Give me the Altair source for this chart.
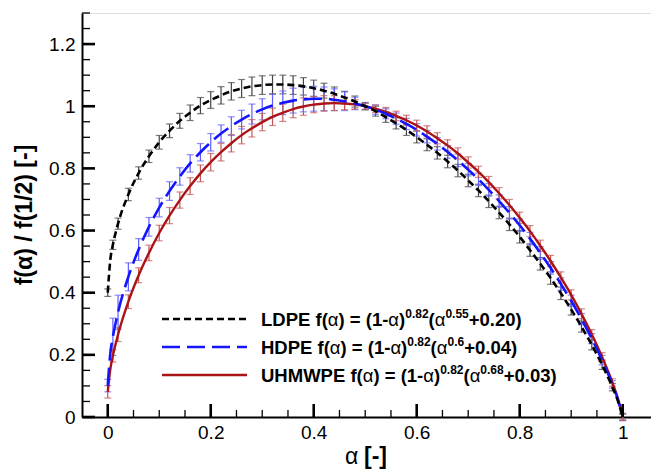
import altair as alt
import pandas as pd

# ---------------- data ----------------
alpha = [0, 0.005, 0.01, 0.02, 0.04, 0.06, 0.08, 0.10, 0.12, 0.14, 0.16, 0.18, 0.20,
         0.22, 0.24, 0.26, 0.28, 0.30, 0.32, 0.34, 0.36, 0.38, 0.40, 0.42, 0.44, 0.46,
         0.48, 0.50, 0.52, 0.54, 0.56, 0.58, 0.60, 0.62, 0.64, 0.66, 0.68, 0.70, 0.72,
         0.74, 0.76, 0.78, 0.80, 0.82, 0.84, 0.86, 0.88, 0.90, 0.92, 0.94, 0.96, 0.98,
         0.99, 1.0]

ldpe = [0.400, 0.506, 0.554, 0.622, 0.716, 0.785, 0.839, 0.884, 0.921, 0.953, 0.979,
        1.002, 1.020, 1.035, 1.048, 1.057, 1.064, 1.068, 1.070, 1.070, 1.068, 1.064,
        1.058, 1.050, 1.040, 1.028, 1.015, 1.000, 0.984, 0.965, 0.945, 0.924, 0.901,
        0.876, 0.850, 0.822, 0.793, 0.761, 0.729, 0.694, 0.658, 0.620, 0.580, 0.537,
        0.493, 0.447, 0.398, 0.346, 0.291, 0.232, 0.168, 0.096, 0.055, 0.0]

hdpe = [0.101, 0.205, 0.258, 0.337, 0.451, 0.539, 0.612, 0.674, 0.727, 0.774, 0.816,
        0.852, 0.884, 0.912, 0.936, 0.957, 0.975, 0.990, 1.002, 1.011, 1.018, 1.022,
        1.024, 1.024, 1.021, 1.016, 1.009, 1.000, 0.989, 0.976, 0.960, 0.943, 0.924,
        0.902, 0.879, 0.853, 0.826, 0.796, 0.765, 0.731, 0.695, 0.657, 0.617, 0.574,
        0.528, 0.480, 0.428, 0.374, 0.315, 0.252, 0.183, 0.105, 0.060, 0.0]

uhmwpe = [0.081, 0.154, 0.197, 0.265, 0.371, 0.456, 0.528, 0.592, 0.648, 0.698, 0.743,
          0.784, 0.820, 0.852, 0.881, 0.907, 0.929, 0.949, 0.966, 0.979, 0.991, 0.999,
          1.005, 1.009, 1.010, 1.009, 1.006, 1.000, 0.992, 0.982, 0.969, 0.955, 0.938,
          0.919, 0.897, 0.874, 0.848, 0.819, 0.789, 0.756, 0.720, 0.682, 0.641, 0.598,
          0.551, 0.502, 0.449, 0.393, 0.332, 0.266, 0.193, 0.111, 0.063, 0.0]

ldpe_err = [0.012, 0, 0.015, 0.018, 0.020, 0.020, 0.020, 0.022, 0.022, 0.024, 0.025,
            0.026, 0.027, 0.028, 0.028, 0.029, 0.030, 0.030, 0.030, 0.030, 0.030, 0.028,
            0.026, 0.024, 0.022, 0.020, 0.018, 0.012, 0.016, 0.017, 0.018, 0.018, 0.019,
            0.019, 0.020, 0.020, 0.020, 0.020, 0.020, 0.020, 0.020, 0.020, 0.020, 0.020,
            0.020, 0.020, 0.020, 0.018, 0.018, 0.016, 0.015, 0.012, 0, 0.010]

hdpe_err = [0.020, 0, 0.060, 0.055, 0.045, 0.035, 0.030, 0.030, 0.030, 0.028, 0.028,
            0.028, 0.028, 0.028, 0.030, 0.030, 0.032, 0.034, 0.036, 0.038, 0.040, 0.040,
            0.040, 0.038, 0.035, 0.030, 0.020, 0.010, 0.015, 0.016, 0.018, 0.018, 0.020,
            0.020, 0.020, 0.020, 0.020, 0.020, 0.020, 0.020, 0.020, 0.020, 0.020, 0.020,
            0.020, 0.020, 0.020, 0.018, 0.018, 0.016, 0.015, 0.012, 0, 0.012]

uhmwpe_err = [0.020, 0, 0.020, 0.022, 0.022, 0.024, 0.025, 0.025, 0.026, 0.026, 0.027,
              0.027, 0.028, 0.028, 0.028, 0.028, 0.028, 0.028, 0.028, 0.028, 0.028, 0.028,
              0.026, 0.025, 0.024, 0.020, 0.015, 0.010, 0.012, 0.014, 0.015, 0.016, 0.017,
              0.018, 0.018, 0.018, 0.018, 0.018, 0.018, 0.018, 0.018, 0.018, 0.018, 0.018,
              0.018, 0.018, 0.018, 0.016, 0.016, 0.015, 0.014, 0.012, 0, 0.010]

x_major = [0, 0.2, 0.4, 0.6, 0.8, 1.0]
x_minor = [0.05, 0.1, 0.15, 0.25, 0.3, 0.35, 0.45, 0.5, 0.55, 0.65, 0.7, 0.75, 0.85, 0.9, 0.95]
y_major = [0, 0.2, 0.4, 0.6, 0.8, 1.0, 1.2]
y_minor = [0.05, 0.1, 0.15, 0.25, 0.3, 0.35, 0.45, 0.5, 0.55, 0.65, 0.7, 0.75, 0.85,
           0.9, 0.95, 1.05, 1.1, 1.15, 1.25, 1.3]

# ---------------- layout ----------------
W, H = 569, 404
FONT = "Liberation Sans"

xs = alt.Scale(domain=[-0.05, 1.055], nice=False, zero=False)
ys = alt.Scale(domain=[0, 1.3], nice=False, zero=False)

X_AX = alt.Axis(values=x_major, format="~g", ticks=False, grid=False, domainColor="black",
                domainWidth=2, labelFontSize=19, labelFont=FONT, labelColor="black",
                labelPadding=6, title=None, labelFlush=False)
Y_AX = alt.Axis(values=y_major, format="~g", ticks=False, grid=False, domainColor="black",
                domainWidth=2, labelFontSize=19, labelFont=FONT, labelColor="black",
                labelPadding=7, title=None)


def frame(vals, errs):
    df = pd.DataFrame({"a": alpha, "f": vals, "e": errs})
    df["lo"] = df["f"] - df["e"]
    df["hi"] = df["f"] + df["e"]
    return df


series = [
    ("LDPE", frame(ldpe, ldpe_err), "#000000", "#444444", [7, 4], 2.6),
    ("HDPE", frame(hdpe, hdpe_err), "#1414ff", "#5c5cff", [18, 7], 2.6),
    ("UHMWPE", frame(uhmwpe, uhmwpe_err), "#aa1414", "#c45656", None, 2.4),
]

layers = []
# error bars
for name, df, lc, bc, dash, sw in series:
    base = alt.Chart(df).transform_filter("datum.e > 0")
    xenc = alt.X("a:Q", scale=xs, axis=X_AX)
    layers.append(base.mark_rule(color=bc, strokeWidth=1.2).encode(
        x=xenc, y=alt.Y("lo:Q", scale=ys, axis=Y_AX), y2="hi:Q"))
    layers.append(base.mark_tick(color=bc, orient="horizontal", size=7, thickness=1.2).encode(
        x=xenc, y=alt.Y("lo:Q", scale=ys, axis=Y_AX)))
    layers.append(base.mark_tick(color=bc, orient="horizontal", size=7, thickness=1.2).encode(
        x=xenc, y=alt.Y("hi:Q", scale=ys, axis=Y_AX)))

# lines (red, blue, black on top)
for name, df, lc, bc, dash, sw in reversed(series):
    kw = dict(color=lc, strokeWidth=sw, interpolate="monotone")
    if dash:
        kw["strokeDash"] = dash
    layers.append(alt.Chart(df).mark_line(**kw).encode(
        x=alt.X("a:Q", scale=xs, axis=X_AX), y=alt.Y("f:Q", scale=ys, axis=Y_AX)))

# inward axis ticks
def xticks(vals, length, sw):
    return alt.Chart(pd.DataFrame({"v": vals})).mark_rule(color="black", strokeWidth=sw).encode(
        x=alt.X("v:Q", scale=xs, axis=X_AX), y=alt.value(H), y2=alt.value(H - length))


def yticks(vals, length, sw):
    return alt.Chart(pd.DataFrame({"v": vals})).mark_rule(color="black", strokeWidth=sw).encode(
        y=alt.Y("v:Q", scale=ys, axis=Y_AX), x=alt.value(0), x2=alt.value(length))


layers += [xticks(x_major, 13, 2.6), xticks(x_minor, 7, 1.3),
           yticks(y_major, 13, 2.6), yticks(y_minor, 8, 1.3)]

dummy = pd.DataFrame({"d": [0]})


def text(s, x, y, size, weight="bold", angle=None, align="left", baseline="alphabetic", font=FONT):
    kw = dict(text=s, font=font, fontSize=size, fontWeight=weight, align=align,
              baseline=baseline, color="black")
    if angle is not None:
        kw["angle"] = angle
    return alt.Chart(dummy).mark_text(**kw).encode(x=alt.value(x), y=alt.value(y))


# axis titles
layers.append(text("f(α) / f(1/2) [-]", -57, 202, 23, angle=270, align="center", baseline="middle"))
layers.append(text("α", 263, 444, 23, weight="normal", baseline="middle"))
layers.append(text("[-]", 282, 444, 23, baseline="middle"))

# legend
BOLD = {'L': 611, 'D': 722, 'P': 667, 'E': 667, 'H': 722, 'U': 722, 'M': 833, 'W': 944,
        ' ': 278, 'f': 333, '(': 333, ')': 333, '=': 584, '-': 333, '+': 584, '.': 278}
for d in "0123456789":
    BOLD[d] = 556
MAIN, SUP, ALPHA_W = 18.5, 12, 0.578


def tw(s, size):
    return sum(BOLD[c] for c in s) * size / 1000


legend_rows = [
    ("LDPE f(", "0.82", "0.55", "+0.20)"),
    ("HDPE f(", "0.82", "0.6", "+0.04)"),
    ("UHMWPE f(", "0.82", "0.68", "+0.03)"),
]
row_y = [306, 334, 362]
for (name, df, lc, bc, dash, sw), (head, s1, s2, tail), yc in zip(series, legend_rows, row_y):
    kw = dict(color=lc, strokeWidth=sw)
    if dash:
        kw["strokeDash"] = dash
    layers.append(alt.Chart(dummy).mark_rule(**kw).encode(
        x=alt.value(80), x2=alt.value(165), y=alt.value(yc)))
    segs = [(head, "m"), ("α", "a"), (") = (1-", "m"), ("α", "a"), (")", "m"), (s1, "s"),
            ("(", "m"), ("α", "a"), (s2, "s"), (tail, "m")]
    x = 179.0
    base = yc + 6.5
    for s, k in segs:
        if k == "m":
            layers.append(text(s, x, base, MAIN))
            x += tw(s, MAIN)
        elif k == "a":
            layers.append(text(s, x, base, MAIN, weight="normal"))
            x += ALPHA_W * MAIN
        else:
            layers.append(text(s, x, base - 8, SUP))
            x += tw(s, SUP)

chart = alt.layer(*layers).properties(
    width=W, height=H,
    padding={"left": 82, "top": 13, "right": 0, "bottom": 53},
    autosize=alt.AutoSizeParams(type="none"),
).configure_view(stroke=None).configure(font=FONT, background="white")

chart.save("out.html", embed_options={"renderer": "svg", "actions": False})
